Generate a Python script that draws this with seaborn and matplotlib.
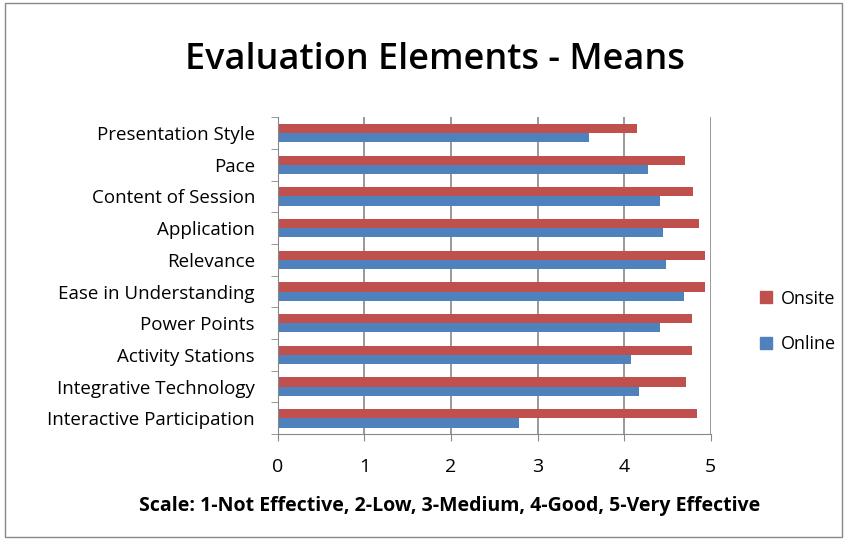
import matplotlib.pyplot as plt
import seaborn as sns
import pandas as pd
import numpy as np
from matplotlib.patches import Rectangle
from matplotlib.lines import Line2D

categories = ['Presentation Style', 'Pace', 'Content of Session', 'Application',
              'Relevance', 'Ease in Understanding', 'Power Points',
              'Activity Stations', 'Integrative Technology', 'Interactive Participation']
onsite = [4.15, 4.70, 4.80, 4.86, 4.94, 4.94, 4.79, 4.79, 4.72, 4.84]
online = [3.59, 4.28, 4.41, 4.45, 4.48, 4.69, 4.41, 4.08, 4.17, 2.79]
series = ['Onsite', 'Online']
colors = ['#C0504D', '#4F81BD']
x_ticks = [0, 1, 2, 3, 4, 5]

# long format table for seaborn
data = pd.DataFrame({
    'Element': categories * 2,
    'Mean': onsite + online,
    'Group': ['Onsite'] * len(categories) + ['Online'] * len(categories),
})

plt.rcParams['font.family'] = ['Open Sans', 'DejaVu Sans']

fig = plt.figure(figsize=(8.47, 5.4), dpi=100)
ax = fig.add_axes([0.328, 0.196, 0.511, 0.587])

sns.barplot(data=data, x='Mean', y='Element', hue='Group', hue_order=series,
            palette=colors, orient='h', width=0.58, saturation=1, ax=ax,
            legend=False, linewidth=0)

ax.set_xlim(0, 5)
ax.set_ylim(len(categories) - 0.5, -0.5)
ax.set_xticks(x_ticks)
ax.set_xticklabels([str(t) for t in x_ticks], fontsize=14)
ax.tick_params(axis='x', length=5, color='#888888', pad=12)
ax.tick_params(axis='y', which='major', length=0, labelsize=13.5, pad=16.5)
ax.set_yticks(np.arange(-0.5, len(categories), 1.0), minor=True)
ax.tick_params(axis='y', which='minor', length=5, color='#888888')

ax.grid(axis='x', color='#888888', linewidth=1.2)
ax.set_axisbelow(True)
for side in ['top', 'right']:
    ax.spines[side].set_visible(False)
ax.spines['left'].set_color('#888888')
ax.spines['bottom'].set_color('#888888')

ax.set_ylabel('')
ax.set_xlabel('Scale: 1-Not Effective, 2-Low, 3-Medium, 4-Good, 5-Very Effective',
              fontsize=14, fontweight='bold', va='center')
# the scale note sits left of the plot centre, as in the original
ax.xaxis.set_label_coords(0.397, -0.227)

fig.text(0.513, 0.888, 'Evaluation Elements - Means', ha='center', va='center',
         fontsize=26, fontweight='semibold')

handles = [Line2D([0], [0], marker='s', linestyle='', markersize=8,
                  markerfacecolor=c, markeredgecolor=c) for c in colors]
fig.legend(handles, series, loc='center left', bbox_to_anchor=(0.875, 0.405),
           frameon=False, fontsize=13, handletextpad=0.3, labelspacing=1.5,
           handlelength=1.0)

fig.patches.append(Rectangle((0.006, 0.006), 0.988, 0.988, transform=fig.transFigure,
                             fill=False, edgecolor='#888888', linewidth=1))

plt.savefig('out.png', dpi=100)
